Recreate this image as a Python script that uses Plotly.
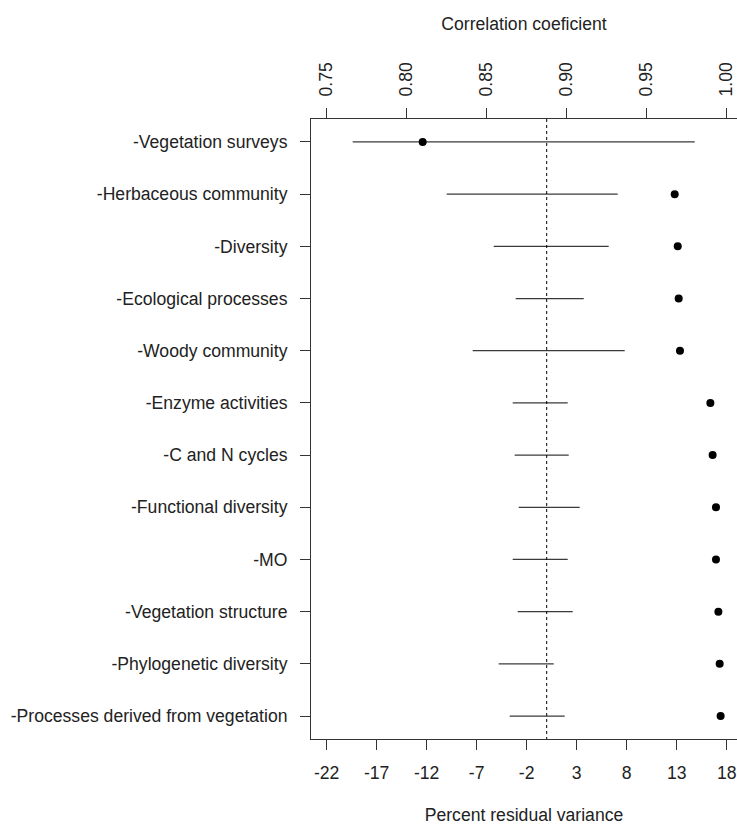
import plotly.graph_objects as go

# Response groups, listed top to bottom
categories = [
    "-Vegetation surveys",
    "-Herbaceous community",
    "-Diversity",
    "-Ecological processes",
    "-Woody community",
    "-Enzyme activities",
    "-C and N cycles",
    "-Functional diversity",
    "-MO",
    "-Vegetation structure",
    "-Phylogenetic diversity",
    "-Processes derived from vegetation",
]

# Percent residual variance interval (lower, upper)
resid_low = [-19.4, -10.0, -5.3, -3.1, -7.4, -3.4, -3.2, -2.8, -3.4, -2.9, -4.8, -3.7]
resid_high = [14.8, 7.1, 6.2, 3.7, 7.8, 2.1, 2.2, 3.3, 2.1, 2.6, 0.7, 1.8]

# Correlation coefficient per group
correlation = [0.810, 0.9675, 0.9694, 0.970, 0.9708, 0.9898, 0.9912,
               0.9933, 0.9933, 0.9948, 0.9956, 0.9962]

resid_ticks = [-22, -17, -12, -7, -2, 3, 8, 13, 18]
resid_tick_text = ["-22", "-17", "-12", "-7", "-2", "3", "8", "13", "18"]
corr_ticks = [0.75, 0.80, 0.85, 0.90, 0.95, 1.00]
corr_tick_text = ["0.75", "0.80", "0.85", "0.90", "0.95", "1.00"]

rows = list(range(1, len(categories) + 1))

FONT = "Liberation Sans, Arial, sans-serif"
FS = 17.6

seg_x, seg_y = [], []
for r, lo, hi in zip(rows, resid_low, resid_high):
    seg_x += [lo, hi, None]
    seg_y += [r, r, None]

fig = go.Figure()

# Residual variance intervals (bottom axis)
fig.add_trace(go.Scatter(
    x=seg_x, y=seg_y, mode="lines",
    line=dict(color="#3a3a3a", width=1.2),
    xaxis="x", yaxis="y", hoverinfo="skip", showlegend=False,
))

# Reference line at zero residual variance
fig.add_trace(go.Scatter(
    x=[0, 0], y=[0.56, 12.44], mode="lines",
    line=dict(color="black", width=1, dash="dot"),
    xaxis="x", yaxis="y", hoverinfo="skip", showlegend=False,
))

# Correlation coefficients (top axis)
fig.add_trace(go.Scatter(
    x=correlation, y=rows, mode="markers",
    marker=dict(color="black", size=8),
    xaxis="x2", yaxis="y", showlegend=False,
))

axis_common = dict(
    showgrid=False, zeroline=False, showline=True, linecolor="#333333",
    linewidth=1, ticks="outside", ticklen=10, tickwidth=1, tickcolor="#333333",
    tickfont=dict(family=FONT, size=FS, color="#222222"),
)

fig.update_layout(
    width=737, height=825,
    margin=dict(l=311, r=0, t=119, b=86),
    paper_bgcolor="white", plot_bgcolor="white",
    font=dict(family=FONT, size=FS, color="#222222"),
    xaxis=dict(
        **axis_common,
        range=[-23.57, 19.03],
        tickmode="array", tickvals=resid_ticks, ticktext=resid_tick_text,
        ticklabelstandoff=8,
        title=dict(text="Percent residual variance", standoff=31,
                   font=dict(family=FONT, size=FS, color="#222222")),
        domain=[0, 1],
    ),
    xaxis2=dict(
        **axis_common,
        overlaying="x", side="top", anchor="y",
        range=[0.7402, 1.00644],
        tickmode="array", tickvals=corr_ticks, ticktext=corr_tick_text,
        tickangle=-90,
        ticklabelstandoff=8,
        title=dict(text="Correlation coeficient", standoff=26,
                   font=dict(family=FONT, size=FS, color="#222222")),
    ),
    yaxis=dict(
        **axis_common,
        range=[12.44, 0.56],
        tickmode="array", tickvals=rows, ticktext=categories,
        ticklabelstandoff=9,
    ),
)

fig.write_html("out.html")
